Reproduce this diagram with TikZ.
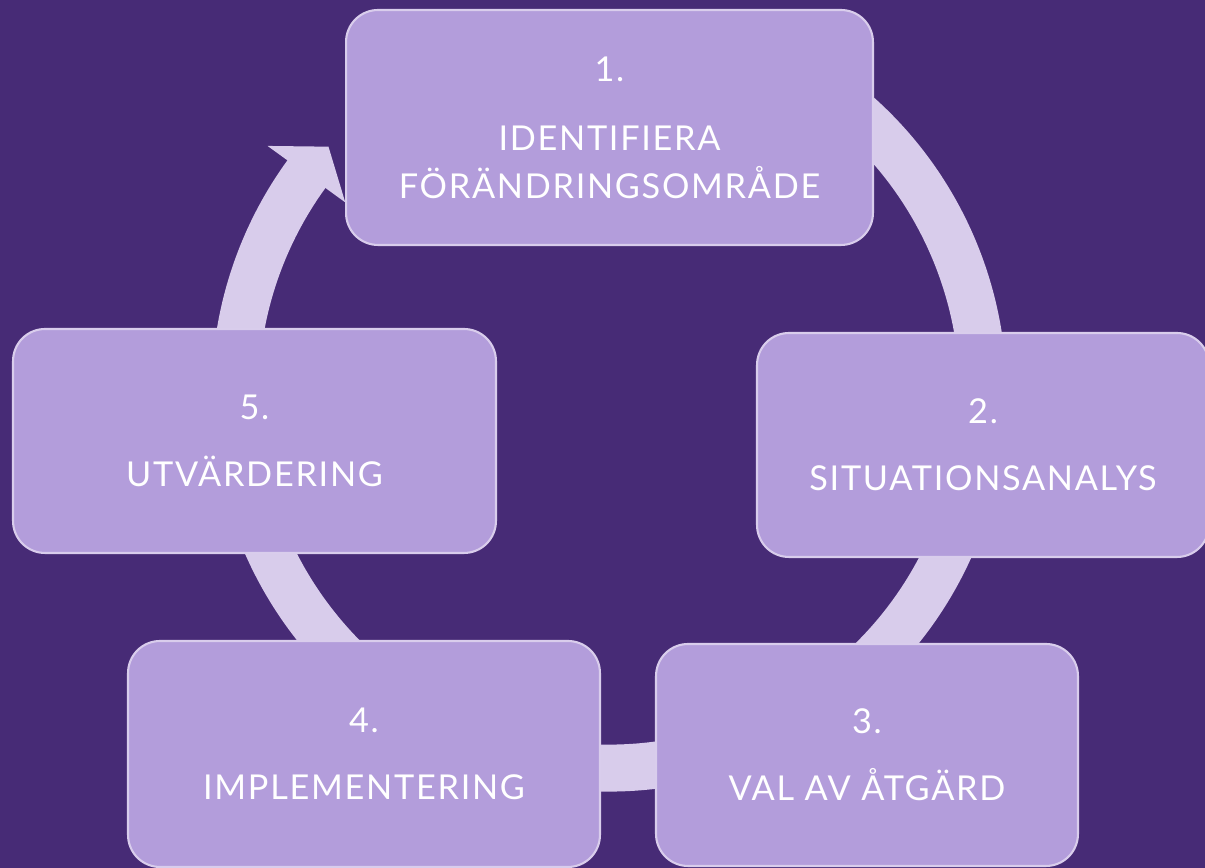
\documentclass[tikz,border=0pt]{standalone}
\usepackage{fontspec}
\setmainfont{Lato}[LetterSpace=5]
\usetikzlibrary{positioning}

\definecolor{bgpurple}{HTML}{472B76}
\definecolor{boxfill}{HTML}{B39DDB}
\definecolor{boxline}{HTML}{D9CDEC}
\definecolor{ringcol}{HTML}{D8CCEB}

\tikzset{
  stepbox/.style 2 args={draw=boxline, line width=1.2pt, fill=boxfill,
    rounded corners=0.64cm, minimum width=#1, minimum height=#2,
    align=center, text=white, inner sep=0pt,
    font=\fontsize{19.5}{27.3}\selectfont},
  ring/.style={draw=ringcol, line width=0.94cm},
}

\begin{document}
\begin{tikzpicture}[x=0.02cm, y=0.02cm]
      % \draw[help lines] (0,0) grid (1205,868);
      \useasboundingbox (0,0) rectangle (1205,868);
      \fill[bgpurple] (0,0) rectangle (1205,868);

      % cycle arrow behind the steps
      \coordinate (c) at (609,474);
      \path (c) ++(70:374) coordinate (r_0);
      \draw[ring] (r_0) arc[start angle=70, end angle=-217, radius=374] coordinate (r_1);
      \fill[ringcol, shift={(c)}] (144:326) -- (138.6:374) -- (144:422) -- cycle;

      \node[stepbox={10.54cm}{4.70cm}] (s_1) at (609.5,740.5) {1.\\[12pt]IDENTIFIERA\\FÖRÄNDRINGSOMRÅDE};
      \node[stepbox={9.04cm}{4.48cm}]  (s_2) at (983,423)     {2.\\[11pt]SITUATIONSANALYS};
      \node[stepbox={8.44cm}{4.44cm}]  (s_3) at (867,113)     {3.\\[11pt]VAL AV ÅTGÄRD};
      \node[stepbox={9.44cm}{4.52cm}]  (s_4) at (364,114)     {4.\\[11pt]IMPLEMENTERING};
      \node[stepbox={9.66cm}{4.48cm}]  (s_5) at (254.5,427)   {5.\\[11pt]UTVÄRDERING};
\end{tikzpicture}
\end{document}
